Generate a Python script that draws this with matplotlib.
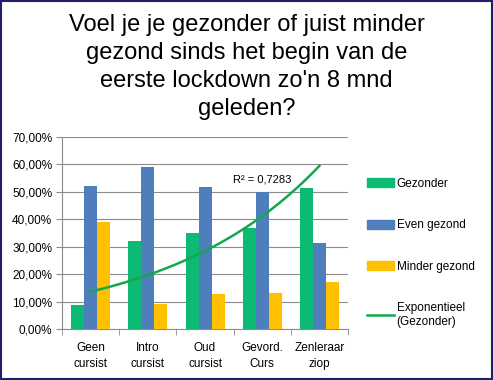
import numpy as np
import matplotlib
matplotlib.use("Agg")
import matplotlib.pyplot as plt
from matplotlib.ticker import FuncFormatter, FixedLocator
from matplotlib.patches import Patch, Rectangle
from matplotlib.lines import Line2D

# --- data ---
categories = ["Geen\ncursist", "Intro\ncursist", "Oud\ncursist", "Gevord.\nCurs", "Zenleraar\nziop"]
gezonder = [8.75, 32.1, 34.9, 37.0, 51.5]
even_gezond = [52.2, 59.1, 51.8, 50.0, 31.4]
minder_gezond = [39.0, 9.2, 12.9, 13.3, 17.2]
series_names = ["Gezonder", "Even gezond", "Minder gezond"]
trend_label = "Exponentieel\n(Gezonder)"
r2_text = "R² = 0,7283"
title = "Voel je je gezonder of juist minder\ngezond sinds het begin van de\neerste lockdown zo'n 8 mnd\ngeleden?"

GREEN = "#0DBA73"
BLUE = "#4F7EBD"
YELLOW = "#FFC000"
TREND = "#13A84E"

plt.rcParams["font.family"] = ["Liberation Sans", "DejaVu Sans"]

fig = plt.figure(figsize=(4.93, 3.80), dpi=100)
fig.patch.set_facecolor("white")
fig.add_artist(Rectangle((0.002, 0.003), 0.996, 0.994, transform=fig.transFigure,
                         fill=False, edgecolor="#1F1F6E", linewidth=1.5))

ax = fig.add_axes([0.1258, 0.1342, 0.5802, 0.5053])

x = np.arange(len(categories))
w = 0.227
ax.bar(x - w, gezonder, w, color=GREEN, zorder=3)
ax.bar(x, even_gezond, w, color=BLUE, zorder=3)
ax.bar(x + w, minder_gezond, w, color=YELLOW, zorder=3)

# exponential trendline fitted on the Gezonder series
xs = x + 1
b, a = np.polyfit(xs, np.log(gezonder), 1)
xf = np.linspace(1, len(categories), 100)
ax.plot(xf - 1, np.exp(a + b * xf), color=TREND, linewidth=1.8, zorder=4)
ax.text(2.49, 54.4, r2_text, fontsize=8, va="center", ha="left", zorder=5)

ax.set_xlim(-0.5, len(categories) - 0.5)
ax.set_ylim(0, 70)
ax.set_yticks(np.arange(0, 71, 10))
ax.yaxis.set_major_formatter(FuncFormatter(lambda v, p: f"{v:.2f}%".replace(".", ",")))
ax.yaxis.grid(True, color="#8C8C8C", linewidth=0.8, zorder=0)

ax.set_xticks(x)
ax.set_xticklabels(categories, fontsize=8.5, linespacing=1.45)
ax.xaxis.set_minor_locator(FixedLocator(np.arange(-0.5, len(categories), 1)))
ax.tick_params(axis="x", which="major", length=0, pad=9)
ax.tick_params(axis="x", which="minor", length=4, color="#8C8C8C")
ax.tick_params(axis="y", length=4, color="#8C8C8C", labelsize=8.5, pad=3)

for s in ["top", "right"]:
    ax.spines[s].set_visible(False)
for s in ["left", "bottom"]:
    ax.spines[s].set_color("#8C8C8C")

handles = [Patch(color=GREEN), Patch(color=BLUE), Patch(color=YELLOW),
           Line2D([0], [0], color=TREND, linewidth=1.8)]
fig.legend(handles, series_names + [trend_label], loc="upper left",
           bbox_to_anchor=(0.735, 0.545), frameon=False, fontsize=8.5,
           handlelength=2.3, handleheight=0.8, handletextpad=0.2,
           labelspacing=2.5, borderaxespad=0)

fig.text(0.5, 0.962, title, ha="center", va="top", fontsize=17, linespacing=1.34)

fig.savefig("out.png", dpi=100)
